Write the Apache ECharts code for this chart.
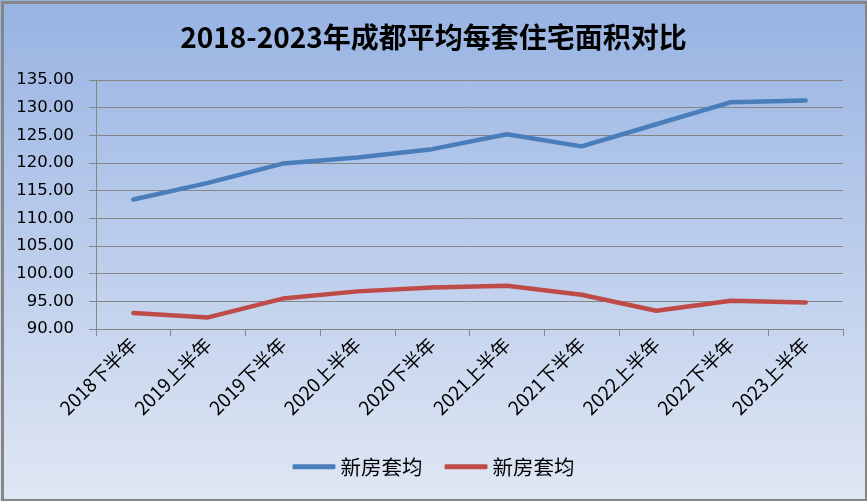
<!DOCTYPE html>
<html>
<head>
<meta charset="utf-8">
<script src="https://cdn.jsdelivr.net/npm/echarts@6/dist/echarts.min.js"></script>
<style>html,body{margin:0;padding:0;}#c{width:867px;height:501px;}</style>
</head>
<body>
<div id="c"></div>
<script>
const titleText = '2018-2023年成都平均每套住宅面积对比';
const categories = ['2018下半年','2019上半年','2019下半年','2020上半年','2020下半年','2021上半年','2021下半年','2022上半年','2022下半年','2023上半年'];
const seriesNames = ['新房套均', '新房套均 '];
const blueValues = [113.4, 116.4, 119.9, 121.0, 122.5, 125.2, 123.0, 127.0, 131.0, 131.3];
const redValues = [92.9, 92.1, 95.5, 96.8, 97.5, 97.8, 96.2, 93.3, 95.1, 94.8];
const yTicks = {min: 90, max: 135, interval: 5};

const chart = echarts.init(document.getElementById('c'));
chart.setOption({
  backgroundColor: {
    type: 'linear', x: 0, y: 0, x2: 0, y2: 1,
    colorStops: [{offset: 0, color: '#97b3e3'}, {offset: 1, color: '#e0e7f4'}]
  },
  graphic: [{
    type: 'rect', left: 0, top: 0, silent: true,
    shape: {x: 1.5, y: 1.5, width: 864, height: 498},
    style: {fill: 'none', stroke: '#868686', lineWidth: 3}
  }],
  title: {
    text: titleText, left: 'center', top: 18,
    textStyle: {fontFamily: 'Noto Sans CJK SC', fontWeight: 'bold', fontSize: 28, color: '#000'}
  },
  grid: {left: 96, right: 24, top: 80, bottom: 172, containLabel: false},
  legend: {
    bottom: 19, left: 'center', icon: 'roundRect', itemWidth: 43, itemHeight: 5, itemGap: 22,
    data: seriesNames,
    formatter: n => n.trim(),
    textStyle: {fontFamily: 'Noto Sans CJK SC', fontSize: 20.5, color: '#000'}
  },
  xAxis: {
    type: 'category', data: categories, boundaryGap: true,
    axisLine: {lineStyle: {color: '#868686', width: 1}},
    axisTick: {show: true, length: 7, inside: false, lineStyle: {color: '#868686'}},
    axisLabel: {rotate: 45, margin: 12, interval: 0, fontFamily: 'Noto Sans CJK SC', fontSize: 19, color: '#000'}
  },
  yAxis: {
    type: 'value', min: yTicks.min, max: yTicks.max, interval: yTicks.interval,
    axisLine: {show: true, lineStyle: {color: '#868686', width: 1}},
    axisTick: {show: true, length: 7, lineStyle: {color: '#868686'}},
    splitLine: {lineStyle: {color: '#868686', width: 1}},
    axisLabel: {margin: 22, fontFamily: 'DejaVu Sans', fontSize: 16.5, color: '#000', formatter: v => v.toFixed(2)}
  },
  series: [
    {name: seriesNames[0], type: 'line', data: blueValues, showSymbol: false, symbol: 'none',
     lineStyle: {color: '#4a7ebb', width: 4.5, cap: 'round', join: 'round'}, itemStyle: {color: '#4a7ebb'}},
    {name: seriesNames[1], type: 'line', data: redValues, showSymbol: false, symbol: 'none',
     lineStyle: {color: '#be4b48', width: 4.5, cap: 'round', join: 'round'}, itemStyle: {color: '#be4b48'}}
  ],
  animation: false
});
</script>
</body>
</html>
